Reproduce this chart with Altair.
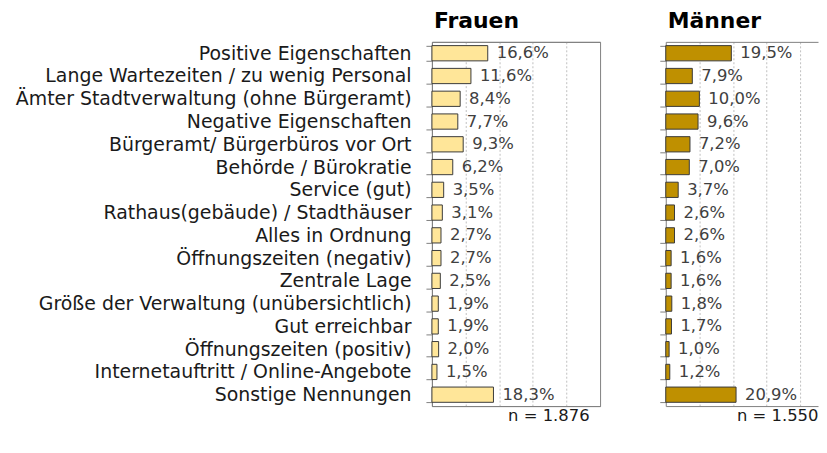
import altair as alt
import pandas as pd

categories = [
    "Positive Eigenschaften",
    "Lange Wartezeiten / zu wenig Personal",
    "Ämter Stadtverwaltung (ohne Bürgeramt)",
    "Negative Eigenschaften",
    "Bürgeramt/ Bürgerbüros vor Ort",
    "Behörde / Bürokratie",
    "Service (gut)",
    "Rathaus(gebäude) / Stadthäuser",
    "Alles in Ordnung",
    "Öffnungszeiten (negativ)",
    "Zentrale Lage",
    "Größe der Verwaltung (unübersichtlich)",
    "Gut erreichbar",
    "Öffnungszeiten (positiv)",
    "Internetauftritt / Online-Angebote",
    "Sonstige Nennungen",
]
frauen = [16.6, 11.6, 8.4, 7.7, 9.3, 6.2, 3.5, 3.1, 2.7, 2.7, 2.5, 1.9, 1.9, 2.0, 1.5, 18.3]
maenner = [19.5, 7.9, 10.0, 9.6, 7.2, 7.0, 3.7, 2.6, 2.6, 1.6, 1.6, 1.8, 1.7, 1.0, 1.2, 20.9]
grid_values = [10, 20, 30, 40]

FONT = "DejaVu Sans"


def fmt(v):
    return f"{v:.1f}".replace(".", ",") + "%"


def make_df(vals):
    return pd.DataFrame({"cat": categories, "val": vals, "label": [fmt(v) for v in vals]})


def panel(vals, color, title, n, width, xmax, show_labels, stroke, title_offset, n_x):
    df = make_df(vals)
    y = alt.Y(
        "cat:N",
        sort=categories,
        title=None,
        scale=alt.Scale(paddingInner=0.33, paddingOuter=0.165),
        axis=alt.Axis(
            labels=show_labels,
            tickBand="extent",
            tickSize=6,
            tickColor="#808080",
            domainColor="#808080",
            labelFontSize=19,
            labelFont=FONT,
            labelColor="#1a1a1a",
            labelPadding=15,
            labelLimit=600,
        ),
    )
    xscale = alt.Scale(domain=[0, xmax], nice=False, zero=True)
    bars = alt.Chart(df).mark_bar(color=color, stroke="#3a3a3a", strokeWidth=1).encode(
        x=alt.X(
            "val:Q",
            scale=xscale,
            axis=alt.Axis(
                orient="bottom",
                labels=False,
                ticks=False,
                grid=True,
                gridDash=[2, 2],
                gridColor="#BFBFBF",
                values=grid_values,
                domainColor="#808080",
                title=n,
                titleFontSize=16.5,
                titleFontWeight="normal",
                titleFont=FONT,
                titleColor="#1a1a1a",
                titleAlign="right",
                titleX=n_x,
                titlePadding=2,
            ),
        ),
        y=y,
    )
    text = alt.Chart(df).mark_text(
        align="left", baseline="middle", dx=9, fontSize=16.5, font=FONT, color="#404040"
    ).encode(
        x=alt.X(
            "val:Q",
            scale=xscale,
            axis=alt.Axis(
                orient="top",
                labels=False,
                ticks=False,
                grid=False,
                domainColor="#808080",
                title=None,
            ),
        ),
        y=y,
        text="label:N",
    )
    return (
        alt.layer(bars, text)
        .resolve_axis(x="independent")
        .properties(
            width=width,
            height=366,
            title=alt.Title(
                title, anchor="start", frame="group", fontSize=22, fontWeight="bold",
                font=FONT, color="#000000", offset=title_offset, dx=2,
            ),
            view=alt.ViewBackground(stroke=stroke),
        )
    )


left = panel(frauen, "#FFE699", "Frauen", "n = 1.876", 169, 50, True, "#808080", 0, 158)
right = panel(maenner, "#BF9000", "Männer", "n = 1.550", 153, 153 / 3.38, False, "transparent", 9, 153)

chart = (
    alt.hconcat(left, right, spacing=58)
    .properties(padding={"left": 6, "right": 0, "top": 0, "bottom": 0})
    .configure_view(strokeWidth=1)
)

chart.save("out.html", embed_options={"renderer": "svg", "actions": False})
